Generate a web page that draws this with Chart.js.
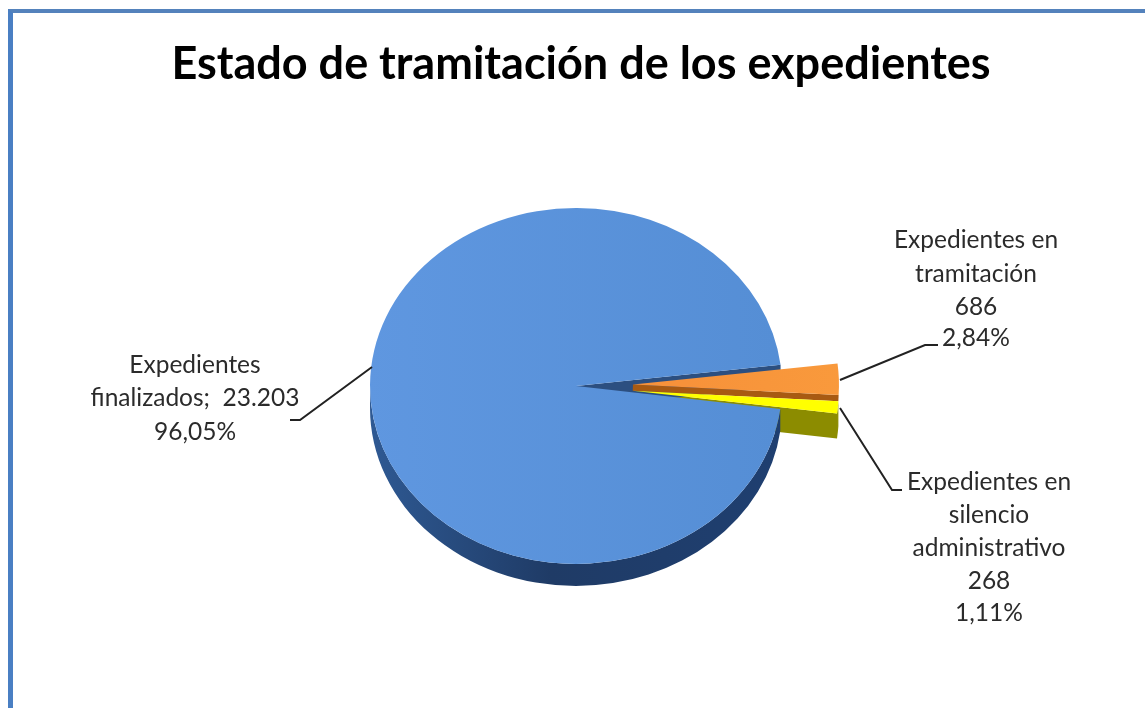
<!DOCTYPE html>
<html lang="es">
<head>
  <meta charset="UTF-8">
  <title>Estado de tramitación de los expedientes</title>
  <script src="https://cdn.jsdelivr.net/npm/chart.js"></script>
  <style>
    html, body {
      margin: 0;
      background: #fff;
      overflow: hidden;
    }
    #frame {
      position: absolute;
      left: 8px;
      top: 9px;
      width: 1137px;
      height: 699px;
      box-sizing: border-box;
      border-top: 4px solid #5482BC;
      border-left: 5px solid #4A7FC3;
    }
    #chart {
      position: absolute;
      left: 0;
      top: 0;
      filter: blur(0.5px);
    }
  </style>
</head>
<body>
  <div id="frame"></div>
  <canvas id="chart" width="1145" height="708"></canvas>

  <script>
    const chartTitle = 'Estado de tramitación de los expedientes';
    const categories = ['Expedientes finalizados', 'Expedientes en tramitación', 'Expedientes en silencio administrativo'];
    const values = [23203, 686, 268];
    const explode = [0, 57, 57];

    const labelLines = [
      ['Expedientes', 'finalizados;  23.203', '96,05%'],
      ['Expedientes en', 'tramitación', '686', '2,84%'],
      ['Expedientes en', 'silencio', 'administrativo', '268', '1,11%']
    ];

    // where the 3d pie sits on the page, the library only knows a flat circle
    const center = { x: 576, y: 386 };
    const squash = 178 / 206;
    const depth = 22;
    const yellowDepth = 25;

    const ctx = document.getElementById('chart').getContext('2d');

    const blueFill = ctx.createLinearGradient(370, 0, 782, 0);
    blueFill.addColorStop(0, '#5F97E0');
    blueFill.addColorStop(1, '#558ED5');

    const rimFill = ctx.createLinearGradient(370, 0, 782, 0);
    rimFill.addColorStop(0, '#2F5A94');
    rimFill.addColorStop(0.45, '#1F3B66');
    rimFill.addColorStop(1, '#1F3F70');

    const orangeFill = ctx.createLinearGradient(633, 0, 838, 0);
    orangeFill.addColorStop(0, '#F7923A');
    orangeFill.addColorStop(0.8, '#F99A3C');
    orangeFill.addColorStop(1, '#E9A066');

    // pie that is squashed into an ellipse and gets side walls
    class Pie3dController extends Chart.PieController {
      shift(arc, i) {
        const mid = (arc.startAngle + arc.endAngle) / 2;
        return { x: Math.cos(mid) * explode[i], y: Math.sin(mid) * explode[i] };
      }

      corner(arc, i, angle) {
        const s = this.shift(arc, i);
        return {
          x: arc.x + s.x + Math.cos(angle) * arc.outerRadius,
          y: arc.y + s.y + Math.sin(angle) * arc.outerRadius
        };
      }

      draw() {
        const g = this.chart.ctx;
        const arcs = this.getMeta().data;
        const [blue, orange, yellow] = arcs;
        const d = depth / squash;
        const dy = yellowDepth / squash;

        g.save();
        g.translate(center.x, center.y);
        g.scale(1, squash);
        g.translate(-blue.x, -blue.y);

        // yellow side, the blue face covers the part that runs under it
        const ys = this.shift(yellow, 2);
        g.fillStyle = '#8C8C00';
        g.beginPath();
        g.moveTo(yellow.x + ys.x, yellow.y + ys.y);
        const yc = this.corner(yellow, 2, yellow.endAngle);
        g.lineTo(yc.x, yc.y);
        g.lineTo(yc.x, yc.y + dy);
        g.lineTo(yellow.x + ys.x, yellow.y + ys.y + dy);
        g.closePath();
        g.fill();
        g.beginPath();
        g.arc(yellow.x + ys.x, yellow.y + ys.y, yellow.outerRadius, yellow.startAngle, yellow.endAngle);
        g.arc(yellow.x + ys.x, yellow.y + ys.y + dy, yellow.outerRadius, yellow.endAngle, yellow.startAngle, true);
        g.closePath();
        g.fill();

        // blue rim along the front
        const a0 = blue.startAngle;
        g.fillStyle = rimFill;
        g.beginPath();
        g.arc(blue.x, blue.y, blue.outerRadius, a0, Math.PI);
        g.arc(blue.x, blue.y + d, blue.outerRadius, Math.PI, a0, true);
        g.closePath();
        g.fill();

        // inside wall of the notch left by the two slices
        const bc = this.corner(blue, 0, blue.endAngle);
        g.fillStyle = '#2C4F80';
        g.beginPath();
        g.moveTo(blue.x, blue.y);
        g.lineTo(bc.x, bc.y);
        g.lineTo(bc.x, bc.y + d);
        g.lineTo(blue.x, blue.y + d);
        g.closePath();
        g.fill();

        blue.draw(g);

        // sliver of the orange side between the two slices
        const os = this.shift(orange, 1);
        const oc = this.corner(orange, 1, orange.endAngle);
        const yt = this.corner(yellow, 2, yellow.startAngle);
        g.fillStyle = '#A85A12';
        g.beginPath();
        g.moveTo(orange.x + os.x, orange.y + os.y);
        g.lineTo(oc.x, oc.y);
        g.lineTo(yt.x, yt.y);
        g.lineTo(yellow.x + ys.x, yellow.y + ys.y);
        g.closePath();
        g.fill();

        [orange, yellow].forEach((arc) => {
          const i = arcs.indexOf(arc);
          const s = this.shift(arc, i);
          g.save();
          g.translate(s.x, s.y);
          arc.draw(g);
          g.restore();
        });

        g.restore();
      }
    }
    Pie3dController.id = 'pie3d';
    Chart.register(Pie3dController);

    const labelsPlugin = {
      id: 'leaderLabels',
      afterDraw(chart) {
        const g = chart.ctx;
        g.save();
        g.strokeStyle = '#222';
        g.lineWidth = 2;
        [
          [[372, 367], [300, 420], [290, 420]],
          [[840, 380], [925, 345], [938, 345]],
          [[840, 408], [892, 490], [902, 490]]
        ].forEach((line) => {
          g.beginPath();
          line.forEach((p, i) => (i ? g.lineTo(p[0], p[1]) : g.moveTo(p[0], p[1])));
          g.stroke();
        });

        g.fillStyle = '#2b2b2b';
        g.font = '24.5px Lato';
        g.textAlign = 'center';
        g.textBaseline = 'middle';
        const spots = [
          { x: 195, ys: [365, 398, 432] },
          { x: 976, ys: [240, 274, 307, 338] },
          { x: 989, ys: [482, 515, 548, 581, 613] }
        ];
        labelLines.forEach((lines, i) => {
          lines.forEach((text, j) => g.fillText(text, spots[i].x, spots[i].ys[j]));
        });
        g.restore();
      }
    };

    new Chart(ctx, {
      type: 'pie3d',
      data: {
        labels: categories,
        datasets: [{
          data: values,
          backgroundColor: [blueFill, orangeFill, '#FFFF00'],
          borderWidth: 0,
          clip: false
        }]
      },
      options: {
        responsive: false,
        animation: false,
        radius: 206,
        rotation: 97.4,
        layout: { padding: { left: 17 } },
        plugins: {
          legend: { display: false },
          tooltip: { enabled: false },
          title: {
            display: true,
            text: chartTitle,
            color: '#000',
            font: { family: 'Lato', size: 45, weight: 'bold' },
            padding: { top: 37, bottom: 0 }
          }
        }
      },
      plugins: [labelsPlugin]
    });
  </script>
</body>
</html>
